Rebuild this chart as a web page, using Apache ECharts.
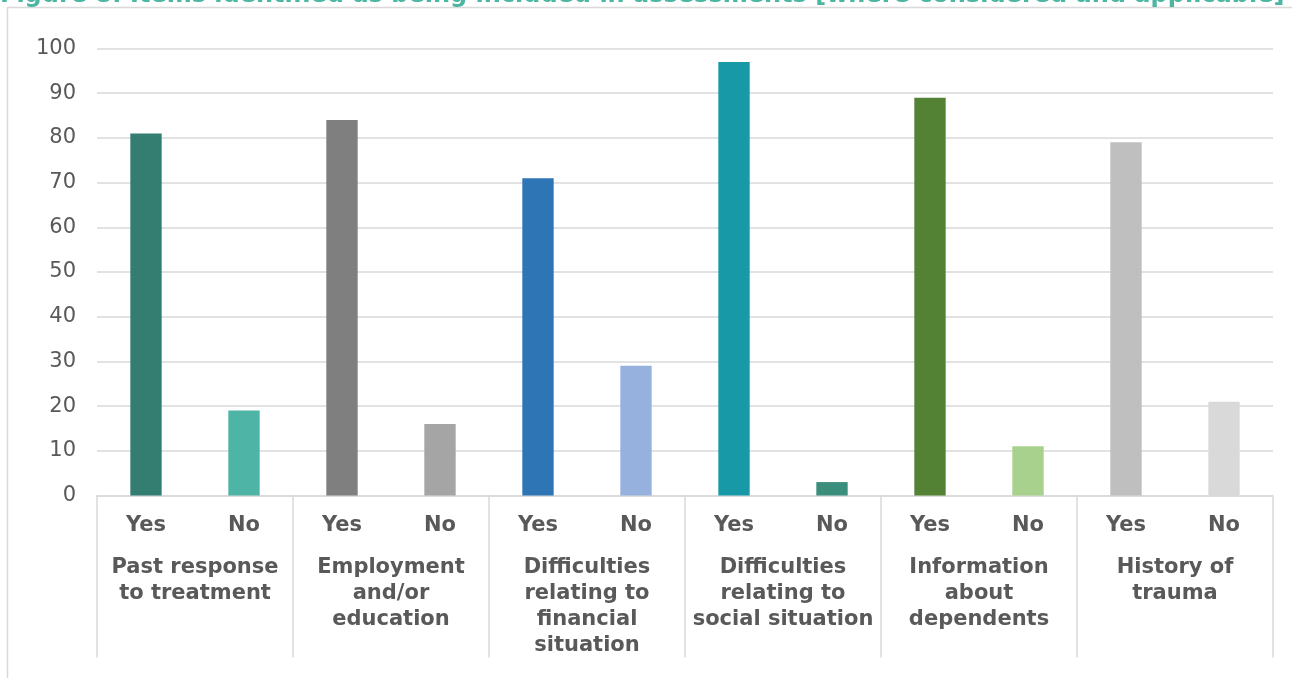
<!DOCTYPE html>
<html>
<head>
<meta charset="utf-8">
<style>
  html, body { margin: 0; padding: 0; background: #ffffff; }
  #chart { width: 1292px; height: 678px; }
</style>
<script src="https://cdn.jsdelivr.net/npm/echarts@6/dist/echarts.min.js"></script>
</head>
<body>
<div id="chart"></div>
<script>
// Assessment items, each split into Yes / No responses (%)
const titleText = 'Figure 8: Items identified as being included in assessments [where considered and applicable]';
const groups = [
  'Past response\nto treatment',
  'Employment\nand/or\neducation',
  'Difficulties\nrelating to\nfinancial\nsituation',
  'Difficulties\nrelating to\nsocial situation',
  'Information\nabout\ndependents',
  'History of\ntrauma'
];
const answers = ['Yes', 'No'];
const yesValues = [81, 84, 71, 97, 89, 79];
const noValues = [19, 16, 29, 3, 11, 21];
const yesColors = ['#347D71', '#7F7F7F', '#2E75B6', '#1899A8', '#548235', '#BFBFBF'];
const noColors = ['#4DB4A6', '#A5A5A5', '#97B1DE', '#3A8E7B', '#A9D18E', '#D9D9D9'];
const yTicks = { min: 0, max: 100, interval: 10 };

const textColor = '#595959';
const lineColor = '#D9D9D9';
const fontFamily = '"DejaVu Sans", Verdana, sans-serif';
const labelSize = 21;

// Flatten into one Yes/No pair per group
const subCategories = [];
const barData = [];
groups.forEach((g, i) => {
  subCategories.push(answers[0], answers[1]);
  barData.push({ value: yesValues[i], itemStyle: { color: yesColors[i] } });
  barData.push({ value: noValues[i], itemStyle: { color: noColors[i] } });
});

const chart = echarts.init(document.getElementById('chart'), null, { renderer: 'canvas' });

chart.setOption({
  animation: false,
  backgroundColor: '#ffffff',
  graphic: [
    {
      type: 'rect',
      silent: true,
      shape: { x: 7.5, y: 7.5, width: 1310, height: 700 },
      style: { fill: 'none', stroke: lineColor, lineWidth: 1.5 }
    },
    {
      type: 'text',
      silent: true,
      left: 0,
      top: -16,
      style: {
        text: titleText,
        fill: '#4BB6A2',
        font: 'bold 24px ' + fontFamily
      }
    }
  ],
  grid: { left: 97, right: 19, top: 48.5, bottom: 182.5, containLabel: false },
  xAxis: [
    {
      type: 'category',
      data: subCategories,
      position: 'bottom',
      axisLine: { show: false },
      axisTick: { show: false },
      axisLabel: {
        interval: 0,
        margin: 20,
        color: textColor,
        fontFamily: fontFamily,
        fontWeight: 'bold',
        fontSize: labelSize
      }
    },
    {
      type: 'category',
      data: groups,
      position: 'bottom',
      boundaryGap: true,
      axisLine: { show: true, lineStyle: { color: lineColor, width: 1.5 } },
      axisTick: { show: true, length: 162, lineStyle: { color: lineColor, width: 1.5 } },
      axisLabel: {
        interval: 0,
        margin: 59,
        color: textColor,
        fontFamily: fontFamily,
        fontWeight: 'bold',
        fontSize: labelSize,
        lineHeight: 26,
        verticalAlign: 'top',
        align: 'center'
      }
    }
  ],
  yAxis: {
    type: 'value',
    min: yTicks.min,
    max: yTicks.max,
    interval: yTicks.interval,
    axisLine: { show: false },
    axisTick: { show: false },
    splitLine: { lineStyle: { color: lineColor, width: 1.5 } },
    axisLabel: {
      margin: 21,
      color: textColor,
      fontFamily: fontFamily,
      fontSize: labelSize
    }
  },
  series: [
    {
      type: 'bar',
      xAxisIndex: 0,
      data: barData,
      barWidth: '32%'
    }
  ]
});
</script>
</body>
</html>
